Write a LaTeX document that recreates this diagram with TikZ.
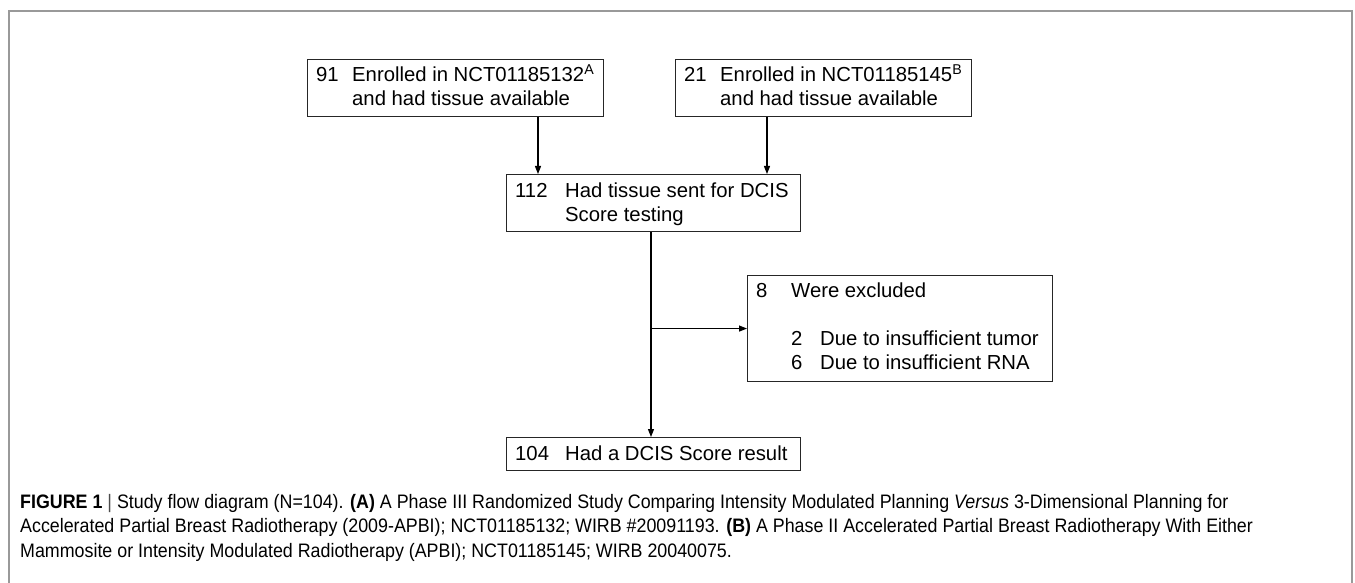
\documentclass[tikz,border=0pt]{standalone}
\usepackage{fontspec}
\setmainfont{Liberation Sans}
\newfontfamily\capfont[FakeStretch=0.915]{Liberation Sans}
\usetikzlibrary{arrows.meta}
\tikzset{
  box/.style={draw=black!85, line width=1.1pt, inner sep=0pt, anchor=north west},
  txt/.style={inner sep=0pt, anchor=base west, font=\fontsize{20.3}{24}\selectfont},
  arr/.style={line width=1.2pt, -{Triangle[length=8pt,width=6pt]}},
  frame/.style={draw=black!40, line width=1.5pt},
  captxt/.style={inner sep=0pt, anchor=base west, font=\capfont\fontsize{19.5}{24.5}\selectfont}
}
\begin{document}
\begin{tikzpicture}[x=1pt,y=-1pt]
\useasboundingbox (0,0) rectangle (1355,583);
% frame
\draw[frame] (9,583) -- (9,11) -- (1352,11) -- (1352,583);
% boxes
\node[box, minimum width=296pt, minimum height=57pt] (a) at (307,59) {};
\node[box, minimum width=296pt, minimum height=57pt] (b) at (675,59) {};
\node[box, minimum width=294pt, minimum height=57pt] (c) at (506,174) {};
\node[box, minimum width=305pt, minimum height=106pt] (d) at (747,275) {};
\node[box, minimum width=294pt, minimum height=33pt] (e) at (506,437) {};
% texts
\node[txt] (ta) at (316,82) {\begin{tabular}[t]{@{}p{36pt}@{}l@{}}91 & Enrolled in NCT01185132\textsuperscript{A}\\ & and had tissue available\end{tabular}};
\node[txt] (tb) at (684,82) {\begin{tabular}[t]{@{}p{36pt}@{}l@{}}21 & Enrolled in NCT01185145\textsuperscript{B}\\ & and had tissue available\end{tabular}};
\node[txt] (tc) at (515,197) {\begin{tabular}[t]{@{}p{50pt}@{}l@{}}112 & Had tissue sent for DCIS\\ & Score testing\end{tabular}};
\node[txt] (td) at (756,297) {\begin{tabular}[t]{@{}p{35pt}@{}l@{}}8 & Were excluded\\ & \\ & \makebox[29pt][l]{2}Due to insufficient tumor\\ & \makebox[29pt][l]{6}Due to insufficient RNA\end{tabular}};
\node[txt] (te) at (515,460) {\makebox[50pt][l]{104}Had a DCIS Score result};
% connectors
\draw[arr] ([xshift=231pt]a.south west) -- ([xshift=231pt]a.south west |- c.north);
\draw[arr] ([xshift=92pt]b.south west) -- ([xshift=92pt]b.south west |- c.north);
\coordinate (split) at ([xshift=145pt]c.south west |- d.west);
\draw[line width=1.2pt] ([xshift=145pt]c.south west) -- (split);
\draw[arr] (split) -- ([xshift=145pt]c.south west |- e.north);
\draw[arr] (split) -- (d.west);
% caption
\node[captxt] (cap1) at (20,508) {\textbf{FIGURE 1} {\color{black!70}|} Study flow diagram (N=104). \textbf{(A)} A Phase III Randomized Study Comparing Intensity Modulated Planning \textit{Versus} 3-Dimensional Planning for};
\node[captxt] (cap2) at (20,532.5) {Accelerated Partial Breast Radiotherapy (2009-APBI); NCT01185132; WIRB \#20091193. \textbf{(B)} A Phase II Accelerated Partial Breast Radiotherapy With Either};
\node[captxt] (cap3) at (20,557) {Mammosite or Intensity Modulated Radiotherapy (APBI); NCT01185145; WIRB 20040075.};
\end{tikzpicture}
\end{document}
